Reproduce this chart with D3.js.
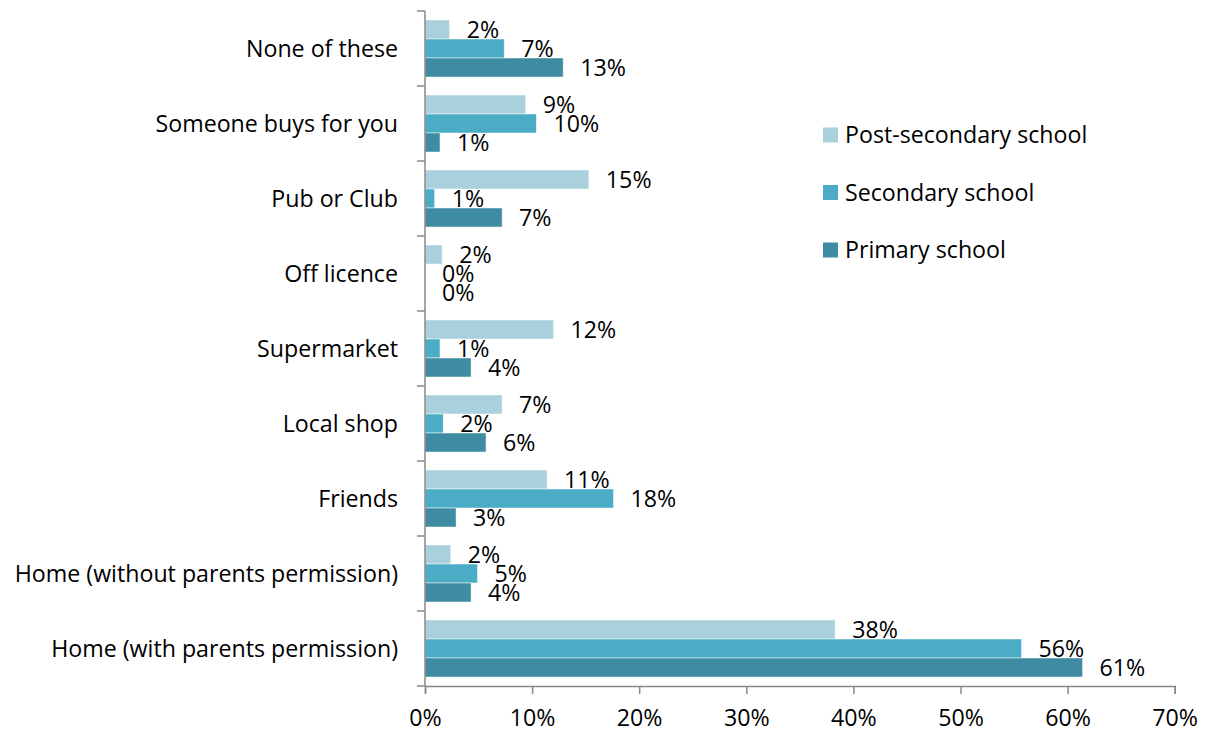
<!DOCTYPE html>
<html>
<head>
<meta charset="utf-8">
<script src="https://cdn.jsdelivr.net/npm/d3@7"></script>
<style>
  body { margin: 0; background: #fff; }
  svg text { font-family: "Open Sans", sans-serif; fill: #000; }
</style>
</head>
<body>
<svg id="chart" width="1206" height="733"></svg>
<script>
// categories, top to bottom as drawn
let categories = ["None of these", "Someone buys for you", "Pub or Club", "Off licence",
  "Supermarket", "Local shop", "Friends", "Home (without parents permission)",
  "Home (with parents permission)"];

let seriesNames = ["Post-secondary school", "Secondary school", "Primary school"];
let seriesColors = ["#aacfdd", "#4bacc6", "#3f8ba3"];

// values in %, same order as categories
let postSecondary = [2.3, 9.4, 15.3, 1.6, 12.0, 7.2, 11.4, 2.4, 38.3];
let secondary     = [7.4, 10.4, 0.9, 0, 1.4, 1.7, 17.6, 4.9, 55.7];
let primary       = [12.9, 1.4, 7.2, 0, 4.3, 5.7, 2.9, 4.3, 61.4];

let xTicks = [0, 10, 20, 30, 40, 50, 60, 70];

let seriesValues = [postSecondary, secondary, primary];

let svg = d3.select("#chart");
let fontSize = 23.2;

let x = d3.scaleLinear().domain([0, 70]).range([425, 1174.7]);
let y = d3.scaleBand().domain(categories).range([11, 686])
  .paddingInner(0.24).paddingOuter(0.12);
let ySub = d3.scaleBand().domain(seriesNames).range([0, y.bandwidth()]);

let axisColor = "#888";

// bars
let groups = svg.append("g").selectAll("g")
  .data(categories)
  .join("g")
  .attr("transform", d => "translate(0," + y(d) + ")");

groups.each(function(cat, ci) {
  let g = d3.select(this);
  seriesNames.forEach(function(s, si) {
    let v = seriesValues[si][ci];
    if (v > 0) {
      g.append("rect")
        .attr("x", x(0))
        .attr("y", ySub(s))
        .attr("width", x(v) - x(0))
        .attr("height", ySub.bandwidth())
        .attr("fill", seriesColors[si])
        .attr("stroke", "rgba(255,255,255,0.6)")
        .attr("stroke-width", 0.8);
    }
    g.append("text")
      .attr("x", x(v) + 17)
      .attr("y", ySub(s) + ySub.bandwidth() / 2)
      .attr("dy", "0.36em")
      .style("font-size", fontSize + "px")
      .text(Math.round(v) + "%");
  });
});

// y axis line and ticks at band boundaries
let yAxis = svg.append("g");
yAxis.append("line")
  .attr("x1", x(0)).attr("x2", x(0))
  .attr("y1", 11).attr("y2", 686)
  .attr("stroke", axisColor).attr("stroke-width", 1.5);
yAxis.selectAll("line.tick")
  .data(d3.range(categories.length + 1))
  .join("line")
  .attr("class", "tick")
  .attr("x1", x(0) - 8).attr("x2", x(0))
  .attr("y1", i => 11 + i * y.step())
  .attr("y2", i => 11 + i * y.step())
  .attr("stroke", axisColor).attr("stroke-width", 1.5);
yAxis.selectAll("text")
  .data(categories)
  .join("text")
  .attr("x", 398)
  .attr("y", d => y(d) + y.bandwidth() / 2)
  .attr("dy", "0.36em")
  .attr("text-anchor", "end")
  .style("font-size", fontSize + "px")
  .text(d => d);

// x axis
let xAxis = svg.append("g")
  .attr("transform", "translate(0,686)")
  .call(d3.axisBottom(x).tickValues(xTicks).tickFormat(d => d + "%")
    .tickSize(8).tickPadding(16));
xAxis.select(".domain").attr("stroke", axisColor).attr("stroke-width", 1.5);
xAxis.selectAll(".tick line").attr("stroke", axisColor).attr("stroke-width", 1.5);
xAxis.selectAll(".tick text").style("font-size", fontSize + "px")
  .style("font-family", "'Open Sans', sans-serif").attr("fill", "#000");

// legend
let legend = svg.append("g").selectAll("g")
  .data(seriesNames)
  .join("g")
  .attr("transform", (d, i) => "translate(823," + (135 + i * 57.5) + ")");
legend.append("rect")
  .attr("x", 0).attr("y", -7.5)
  .attr("width", 15).attr("height", 15)
  .attr("fill", (d, i) => seriesColors[i]);
legend.append("text")
  .attr("x", 22).attr("y", 0).attr("dy", "0.36em")
  .style("font-size", fontSize + "px")
  .text(d => d);
</script>
</body>
</html>
